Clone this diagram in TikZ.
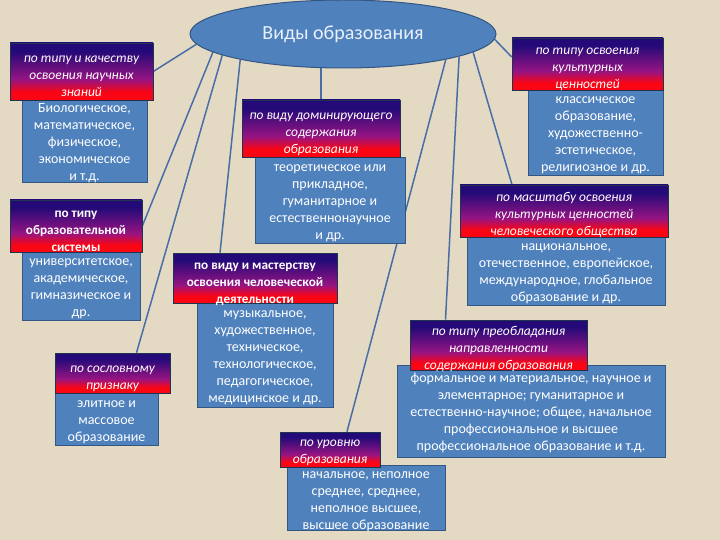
\documentclass[tikz,border=0pt]{standalone}
\usepackage{fontspec}
\setmainfont{Carlito}
\usetikzlibrary{shapes.geometric,calc}
\definecolor{bgc}{RGB}{228,218,196}
\definecolor{boxblue}{RGB}{79,129,189}
\definecolor{boxline}{RGB}{52,86,130}
\definecolor{lnc}{RGB}{72,110,165}
\definecolor{hdrtop}{RGB}{35,10,120}
\definecolor{hdrmid}{RGB}{150,20,130}
\definecolor{hdrred}{RGB}{250,5,20}
\definecolor{titletext}{RGB}{232,240,250}
\pgfdeclareverticalshading{hdrshade}{100bp}{color(0bp)=(hdrred); color(32bp)=(hdrred); color(43bp)=(hdrmid); color(68bp)=(hdrtop); color(100bp)=(hdrtop)}
\pgfdeclarelayer{bgl}
\pgfdeclarelayer{lines}
\pgfsetlayers{bgl,lines,main}
% text block lowered by #1, taking no room of its own
\newcommand\txtblock[2]{\raisebox{-#1}[0pt][0pt]{\begin{tabular}{@{}c@{}}#2\end{tabular}}}
\newcommand\htx[1]{\txtblock{8pt}{#1}}
\newcommand\btx[1]{\txtblock{5.5pt}{#1}}
\begin{document}
\begin{tikzpicture}[x=1pt,y=-1pt,
  bodybox/.style={draw=boxline, line width=0.8pt, fill=boxblue, text=white, inner sep=0pt, font=\fontsize{14}{17}\selectfont},
  hdrbox/.style={draw=boxline!60!black, line width=0.6pt, shading=hdrshade, text=white, inner sep=0pt, font=\fontsize{13.5}{17}\selectfont\itshape},
  hdrbold/.style={hdrbox, font=\fontsize{13.2}{17}\selectfont\bfseries},
  link/.style={draw=lnc, line width=1.5pt}]
\useasboundingbox (0,0) rectangle (720,540);
\begin{pgfonlayer}{bgl}
\fill[bgc] (0,0) rectangle (720,540);
\end{pgfonlayer}

% root
\node[ellipse, draw=boxline, line width=1pt, fill=boxblue, minimum width=306pt, minimum height=68pt, inner sep=0pt, text=titletext, font=\fontsize{20}{24}\selectfont] (root) at (343,34) {Виды образования};

% bodies
\node[bodybox, minimum width=125pt, minimum height=82pt] (b1) at (84.5,141) {\btx{Биологическое,\\математическое,\\физическое,\\экономическое\\и т.д.}};
\node[bodybox, minimum width=118pt, minimum height=68pt] (b2) at (81,286) {\btx{университетское,\\академическое,\\гимназическое и\\др.}};
\node[bodybox, minimum width=103pt, minimum height=52pt] (b3) at (106.5,419) {\btx{элитное и\\массовое\\образование}};
\node[bodybox, minimum width=150pt, minimum height=86pt] (b4) at (330,200) {\btx{теоретическое или\\прикладное,\\гуманитарное и\\естественнонаучное\\и др.}};
\node[bodybox, minimum width=136pt, minimum height=104pt] (b5) at (265,355) {\btx{музыкальное,\\художественное,\\техническое,\\технологическое,\\педагогическое,\\медицинское и др.}};
\node[bodybox, minimum width=158pt, minimum height=65pt] (b6) at (366,497.5) {\txtblock{7pt}{начальное, неполное\\среднее, среднее,\\неполное высшее,\\высшее образование}};
\node[bodybox, minimum width=135pt, minimum height=85pt] (b7) at (595.5,132.5) {\btx{классическое\\образование,\\художественно-\\эстетическое,\\религиозное и др.}};
\node[bodybox, minimum width=198pt, minimum height=68pt] (b8) at (566,271) {\btx{национальное,\\отечественное, европейское,\\международное, глобальное\\образование и др.}};
\node[bodybox, minimum width=268pt, minimum height=92pt] (b9) at (531,411) {\btx{формальное и материальное, научное и\\элементарное; гуманитарное и\\естественно-научное; общее, начальное\\профессиональное и высшее\\профессиональное образование и т.д.}};

% headers
\node[hdrbox, minimum width=143pt, minimum height=57pt] (h1) at (81.5,71.5) {\htx{по типу и качеству\\освоения научных\\знаний}};
\node[hdrbold, minimum width=132pt, minimum height=52pt] (h2) at (76,226) {\htx{по типу\\образовательной\\системы}};
\node[hdrbox, minimum width=115pt, minimum height=40pt] (h3) at (112.5,373) {\htx{по сословному\\признаку}};
\node[hdrbox, minimum width=158pt, minimum height=57pt] (h4) at (321,128.5) {\htx{по виду доминирующего\\содержания\\образования}};
\node[hdrbold, minimum width=164pt, minimum height=50pt] (h5) at (255,278) {\htx{по виду и мастерству\\освоения человеческой\\деятельности}};
\node[hdrbox, minimum width=100pt, minimum height=35pt] (h6) at (330,449.5) {\txtblock{6pt}{по уровню\\образования}};
\node[hdrbox, minimum width=151pt, minimum height=52pt] (h7) at (587.5,64) {\htx{по типу освоения\\культурных\\ценностей}};
\node[hdrbox, minimum width=208pt, minimum height=52pt] (h8) at (564,211) {\htx{по масштабу освоения\\культурных ценностей\\человеческого общества}};
\node[hdrbox, minimum width=177pt, minimum height=50pt] (h9) at (498.5,345) {\htx{по типу преобладания\\направленности\\содержания образования}};

% connectors
\begin{pgfonlayer}{lines}
\draw[link] (root.184) -- (h1.east);
\draw[link] (root.188) -- (h2.east);
\draw[link] (root.190) -- ([xshift=24pt]h3.north);
\draw[link] (root.194) -- ([xshift=-35pt]h5.north);
\draw[link] (root.south -| h4.north) -- (h4.north);
\draw[link] (root.346) -- ([xshift=17pt]h6.north);
\draw[link] (root.349) -- ([xshift=-53pt]h9.north);
\draw[link] (root.352) -- ([xshift=-52pt]h8.north);
\draw[link] (root.358) -- ([yshift=7pt]h7.west);
\end{pgfonlayer}
\end{tikzpicture}
\end{document}
